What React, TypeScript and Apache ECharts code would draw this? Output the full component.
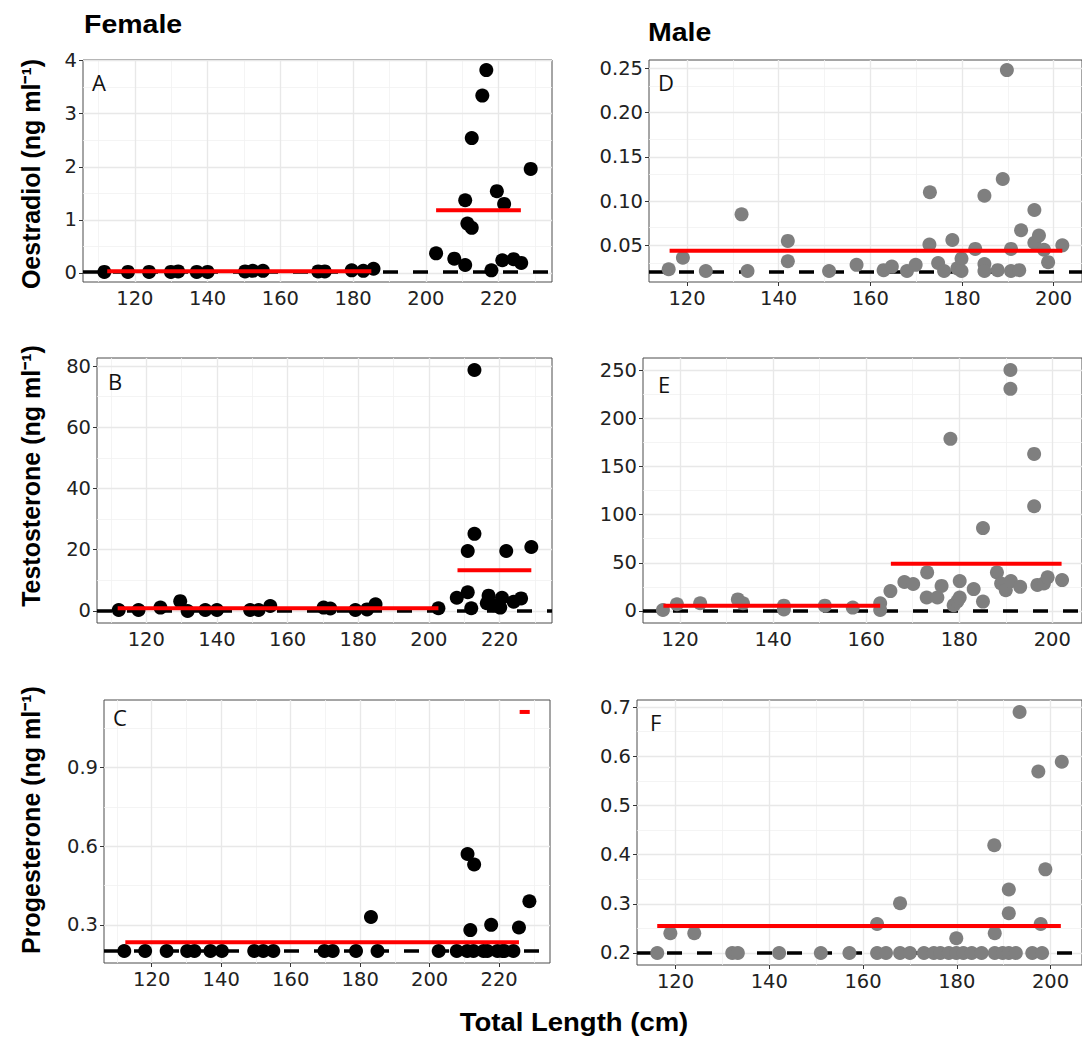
import React, { useEffect, useRef } from "react";
import * as echarts from "echarts";

// ---------- axis breaks ----------
const femaleXMajor = [120, 140, 160, 180, 200, 220];
const femaleXMinor = [110, 130, 150, 170, 190, 210, 230];
const maleXMajor = [120, 140, 160, 180, 200];
const maleXMinor = [130, 150, 170, 190];

// ---------- A: female oestradiol ----------
const femaleOeLength = [111.6, 118.1, 123.9, 129.9, 131.9, 137.0, 140.0, 150.3, 152.4, 155.2, 170.4, 172.2, 179.6, 182.8, 185.6,
  202.8, 207.8, 210.8, 210.8, 211.4, 212.6, 212.6, 215.5, 216.6, 218.0, 219.5, 221.0, 221.5, 224.1, 226.2, 228.8];
const femaleOe = [0.02, 0.02, 0.02, 0.02, 0.03, 0.02, 0.02, 0.03, 0.04, 0.04, 0.03, 0.03, 0.05, 0.04, 0.08,
  0.37, 0.27, 0.15, 1.37, 0.93, 0.85, 2.54, 3.34, 3.82, 0.05, 1.54, 0.24, 1.30, 0.26, 0.19, 1.96];
const femaleOeMeans = [[112.4, 185.0, 0.033], [202.8, 226.1, 1.18]];
const femaleOeLOD = 0.02;
const femaleOeYMajor = [0, 1, 2, 3, 4];
const femaleOeYMinor = [0.5, 1.5, 2.5, 3.5];

// ---------- B: female testosterone ----------
const femaleTeLength = [112.2, 117.8, 124.0, 129.6, 131.7, 136.7, 140.0, 149.4, 151.8, 155.1, 170.2, 172.1, 179.2, 182.5, 184.9,
  202.7, 207.9, 211.0, 211.0, 212.0, 212.9, 212.9, 216.4, 216.9, 218.3, 220.2, 220.7, 221.9, 224.0, 226.1, 229.0];
const femaleTe = [0.3, 0.3, 1.1, 3.2, 0.0, 0.3, 0.3, 0.3, 0.3, 1.6, 1.1, 0.8, 0.3, 0.5, 2.2,
  0.9, 4.3, 6.1, 19.6, 0.9, 25.2, 78.7, 2.5, 5.0, 1.9, 1.1, 4.3, 19.6, 3.0, 4.1, 20.9];
const femaleTeMeans = [[111.9, 202.7, 0.85], [208.1, 229.0, 13.3]];
const femaleTeLOD = 0;
const femaleTeYMajor = [0, 20, 40, 60, 80];
const femaleTeYMinor = [10, 30, 50, 70];

// ---------- C: female progesterone ----------
const femalePrLength = [112.1, 118.1, 124.3, 130.2, 132.3, 136.9, 140.2, 149.5, 152.1, 155.0, 169.7, 172.1, 178.8, 183.1, 185.0,
  202.6, 207.8, 210.9, 210.8, 211.7, 212.8, 212.6, 215.5, 216.6, 217.7, 219.5, 221.0, 221.5, 224.1, 225.7, 228.7];
const femalePr = [0.2, 0.2, 0.2, 0.2, 0.2, 0.2, 0.2, 0.2, 0.2, 0.2, 0.2, 0.2, 0.2, 0.33, 0.2,
  0.2, 0.2, 0.57, 0.2, 0.28, 0.53, 0.2, 0.2, 0.2, 0.30, 0.2, 0.2, 0.2, 0.2, 0.29, 0.39];
const femalePrMeans = [[112.4, 225.7, 0.234], [225.9, 228.8, 1.112]];
const femalePrLOD = 0.2;
const femalePrYMajor = [0.3, 0.6, 0.9];
const femalePrYMinor = [0.45, 0.75, 1.05];

// ---------- D: male oestradiol ----------
const maleOeLength = [116.0, 119.1, 124.1, 131.9, 133.2, 142.0, 142.0, 151.0, 157.0, 162.9, 164.7, 168.0, 169.9, 173.0, 172.9,
  174.8, 176.1, 177.9, 179.0, 179.9, 179.9, 182.9, 184.9, 184.9, 184.9, 187.8, 188.9, 189.8, 190.7, 190.7, 192.5, 192.9,
  195.8, 195.8, 196.8, 197.9, 198.8, 201.9];
const maleOe = [0.023, 0.036, 0.021, 0.085, 0.021, 0.055, 0.032, 0.021, 0.028, 0.022, 0.026, 0.021, 0.028, 0.110, 0.051,
  0.030, 0.021, 0.056, 0.024, 0.035, 0.021, 0.046, 0.106, 0.029, 0.021, 0.022, 0.125, 0.248, 0.046, 0.021, 0.022, 0.067,
  0.090, 0.053, 0.061, 0.045, 0.031, 0.050];
const maleOeMeans = [[116.2, 201.9, 0.044]];
const maleOeLOD = 0.02;
const maleOeYMajor = [0.05, 0.10, 0.15, 0.20, 0.25];
const maleOeYMinor = [0.025, 0.075, 0.125, 0.175, 0.225];

// ---------- E: male testosterone ----------
const maleTeLength = [116.3, 119.3, 124.3, 132.4, 133.5, 142.3, 142.3, 151.1, 157.1, 163.0, 163.0, 165.2, 168.2, 170.1, 173.1,
  173.0, 175.3, 176.2, 178.1, 178.8, 179.6, 180.1, 180.1, 183.1, 185.1, 185.1, 188.1, 189.0, 190.0, 191.0, 191.0, 191.1,
  193.1, 196.1, 196.1, 196.8, 198.2, 199.0, 202.1];
const maleTe = [1, 7, 8, 12, 8, 5.5, 1.5, 5.5, 3.5, 8, 1, 20.6, 30, 28, 40,
  14, 14, 26, 178.6, 6, 10, 14, 31, 22.7, 86, 9.7, 40, 28.5, 21.6, 250, 230.5, 31,
  25, 163, 108.6, 27, 28.5, 35, 32];
const maleTeMeans = [[116.4, 163.0, 5.5], [165.3, 202.0, 49.1]];
const maleTeLOD = 0;
const maleTeYMajor = [0, 50, 100, 150, 200, 250];
const maleTeYMinor = [25, 75, 125, 175, 225];

// ---------- F: male progesterone ----------
const malePrLength = [116.1, 118.9, 124.0, 132.1, 133.3, 142.1, 151.0, 157.1, 163.0, 163.0, 164.9, 167.9, 167.9, 170.0, 173.0,
  175.1, 176.5, 178.3, 179.9, 179.9, 181.4, 183.2, 185.3, 188.0, 188.1, 188.1, 189.8, 191.1, 191.1, 191.1, 192.6, 193.4,
  196.1, 197.4, 197.9, 198.2, 198.9, 202.4];
const malePr = [0.2, 0.24, 0.24, 0.2, 0.2, 0.2, 0.2, 0.2, 0.259, 0.2, 0.2, 0.301, 0.2, 0.2, 0.2,
  0.2, 0.2, 0.2, 0.23, 0.2, 0.2, 0.2, 0.2, 0.419, 0.24, 0.2, 0.2, 0.329, 0.281, 0.2, 0.2, 0.69,
  0.2, 0.569, 0.259, 0.2, 0.37, 0.589];
const malePrMeans = [[116.1, 202.2, 0.255]];
const malePrLOD = 0.2;
const malePrYMajor = [0.2, 0.3, 0.4, 0.5, 0.6, 0.7];
const malePrYMinor = [0.25, 0.35, 0.45, 0.55, 0.65];

// ---------- text ----------
const panelLetters = ["A", "B", "C", "D", "E", "F"];
const yTitles = ["Oestradiol (ng ml\u207B\u00B9)", "Testosterone (ng ml\u207B\u00B9)", "Progesterone (ng ml\u207B\u00B9)"];
const sexTitles = ["Female", "Male"];
const xTitle = "Total Length (cm)";

const FEMALE_COLOR = "#000000";
const MALE_COLOR = "#7f7f7f";

type Panel = {
  x: number[]; y: number[]; means: number[][]; lod: number;
  xMajor: number[]; xMinor: number[]; yMajor: number[]; yMinor: number[];
  color: string; digits: number;
};

const panels: Panel[] = [
  { x: femaleOeLength, y: femaleOe, means: femaleOeMeans, lod: femaleOeLOD, xMajor: femaleXMajor, xMinor: femaleXMinor, yMajor: femaleOeYMajor, yMinor: femaleOeYMinor, color: FEMALE_COLOR, digits: 0 },
  { x: femaleTeLength, y: femaleTe, means: femaleTeMeans, lod: femaleTeLOD, xMajor: femaleXMajor, xMinor: femaleXMinor, yMajor: femaleTeYMajor, yMinor: femaleTeYMinor, color: FEMALE_COLOR, digits: 0 },
  { x: femalePrLength, y: femalePr, means: femalePrMeans, lod: femalePrLOD, xMajor: femaleXMajor, xMinor: femaleXMinor, yMajor: femalePrYMajor, yMinor: femalePrYMinor, color: FEMALE_COLOR, digits: 1 },
  { x: maleOeLength, y: maleOe, means: maleOeMeans, lod: maleOeLOD, xMajor: maleXMajor, xMinor: maleXMinor, yMajor: maleOeYMajor, yMinor: maleOeYMinor, color: MALE_COLOR, digits: 2 },
  { x: maleTeLength, y: maleTe, means: maleTeMeans, lod: maleTeLOD, xMajor: maleXMajor, xMinor: maleXMinor, yMajor: maleTeYMajor, yMinor: maleTeYMinor, color: MALE_COLOR, digits: 0 },
  { x: malePrLength, y: malePr, means: malePrMeans, lod: malePrLOD, xMajor: maleXMajor, xMinor: maleXMinor, yMajor: malePrYMajor, yMinor: malePrYMinor, color: MALE_COLOR, digits: 1 },
];

// pixel layout of the six panels
const layouts = [
  { left: 83, top: 60, width: 469, height: 222 },
  { left: 97, top: 358, width: 455, height: 265 },
  { left: 104, top: 700, width: 446, height: 263 },
  { left: 649, top: 60, width: 436, height: 222 },
  { left: 643, top: 358, width: 442, height: 265 },
  { left: 637, top: 700, width: 448, height: 265 },
];
const letterPos = [[92, 82], [108, 381], [113, 717], [658, 82], [658, 384], [650, 722]];

function expand(vals: number[]): [number, number] {
  const lo = Math.min(...vals);
  const hi = Math.max(...vals);
  const r = hi - lo;
  return [lo - 0.05 * r, hi + 0.05 * r];
}

function buildOption() {
  const grid: any[] = [];
  const xAxis: any[] = [];
  const yAxis: any[] = [];
  const series: any[] = [];
  const tickFont = "DejaVu Sans";

  panels.forEach((p, i) => {
    const xr = expand([...p.x, ...p.means.map((m) => m[0]), ...p.means.map((m) => m[1])]);
    const yr = expand([...p.y, p.lod, ...p.means.map((m) => m[2])]);
    grid.push({ ...layouts[i], show: true, borderColor: "#4d4d4d", borderWidth: 1, backgroundColor: "#ffffff", z: 0 });
    xAxis.push({
      type: "value", gridIndex: i, min: xr[0], max: xr[1],
      axisLine: { show: false }, splitLine: { show: false },
      axisTick: { show: true, inside: false, length: 4, lineStyle: { color: "#333", width: 1 }, customValues: p.xMajor },
      axisLabel: { customValues: p.xMajor, fontFamily: tickFont, fontSize: 19.5, color: "#222", margin: 6, formatter: (v: number) => String(v) },
    });
    yAxis.push({
      type: "value", gridIndex: i, min: yr[0], max: yr[1],
      axisLine: { show: false }, splitLine: { show: false },
      axisTick: { show: true, inside: false, length: 4, lineStyle: { color: "#333", width: 1 }, customValues: p.yMajor },
      axisLabel: { customValues: p.yMajor, fontFamily: tickFont, fontSize: 19.5, color: "#222", margin: 6, formatter: (v: number) => v.toFixed(p.digits) },
    });
    const majorStyle = { color: "#e8e8e8", width: 1.4, type: "solid" };
    const minorStyle = { color: "#f1f1f1", width: 0.8, type: "solid" };
    series.push({
      type: "line", xAxisIndex: i, yAxisIndex: i, data: [], z: 1, silent: true,
      markLine: {
        z: 1, silent: true, symbol: ["none", "none"], label: { show: false }, animation: false,
        data: [
          ...p.xMinor.map((v) => ({ xAxis: v, lineStyle: minorStyle })),
          ...p.yMinor.map((v) => ({ yAxis: v, lineStyle: minorStyle })),
          ...p.xMajor.map((v) => ({ xAxis: v, lineStyle: majorStyle })),
          ...p.yMajor.map((v) => ({ yAxis: v, lineStyle: majorStyle })),
        ],
      },
    });
    series.push({
      type: "line", xAxisIndex: i, yAxisIndex: i, z: 2, silent: true, symbol: "none",
      data: [[xr[0], p.lod], [xr[1], p.lod]],
      lineStyle: { color: "#000", width: 3.5, type: [15, 15] },
    });
    series.push({
      type: "scatter", xAxisIndex: i, yAxisIndex: i, z: 3, silent: true,
      symbol: "circle", symbolSize: 14,
      data: p.x.map((v, k) => [v, p.y[k]]),
      itemStyle: { color: p.color, opacity: 1 },
    });
    p.means.forEach((m) => {
      series.push({
        type: "line", xAxisIndex: i, yAxisIndex: i, z: 4, silent: true, symbol: "none",
        data: [[m[0], m[2]], [m[1], m[2]]],
        lineStyle: { color: "#ff0000", width: 4 },
      });
    });
  });

  const hFont = "bold 25px 'Liberation Sans', Arial, sans-serif";
  const vFont = "bold 25px 'Liberation Sans', Arial, sans-serif";
  const graphic: any[] = [];
  panelLetters.forEach((t, i) => {
    graphic.push({
      type: "text", x: letterPos[i][0], y: letterPos[i][1], z: 10,
      style: { text: t, font: "22px 'Open Sans', sans-serif", fill: "#111", align: "left", verticalAlign: "middle" },
    });
  });
  graphic.push({ type: "text", x: 84, y: 25, scaleX: 1.14, style: { text: sexTitles[0], font: hFont, fill: "#000", align: "left", verticalAlign: "middle" } });
  graphic.push({ type: "text", x: 648, y: 33, scaleX: 1.14, style: { text: sexTitles[1], font: hFont, fill: "#000", align: "left", verticalAlign: "middle" } });
  graphic.push({ type: "text", x: 574, y: 1022, scaleX: 1.1, style: { text: xTitle, font: hFont, fill: "#000", align: "center", verticalAlign: "middle" } });
  const yTitleCenters = [174, 476, 820];
  yTitles.forEach((t, i) => {
    graphic.push({
      type: "text", x: 31, y: yTitleCenters[i], rotation: Math.PI / 2,
      style: { text: t, font: vFont, fill: "#000", align: "center", verticalAlign: "middle" },
    });
  });

  return { animation: false, backgroundColor: "#ffffff", grid, xAxis, yAxis, series, graphic };
}

export default function App() {
  const ref = useRef<HTMLDivElement>(null);
  useEffect(() => {
    if (!ref.current) return;
    const chart = echarts.init(ref.current, null, { renderer: "svg" });
    chart.setOption(buildOption() as any);
    return () => chart.dispose();
  }, []);
  return <div ref={ref} style={{ position: "absolute", left: 0, top: 0, width: 1082, height: 1040, background: "#fff" }} />;
}
